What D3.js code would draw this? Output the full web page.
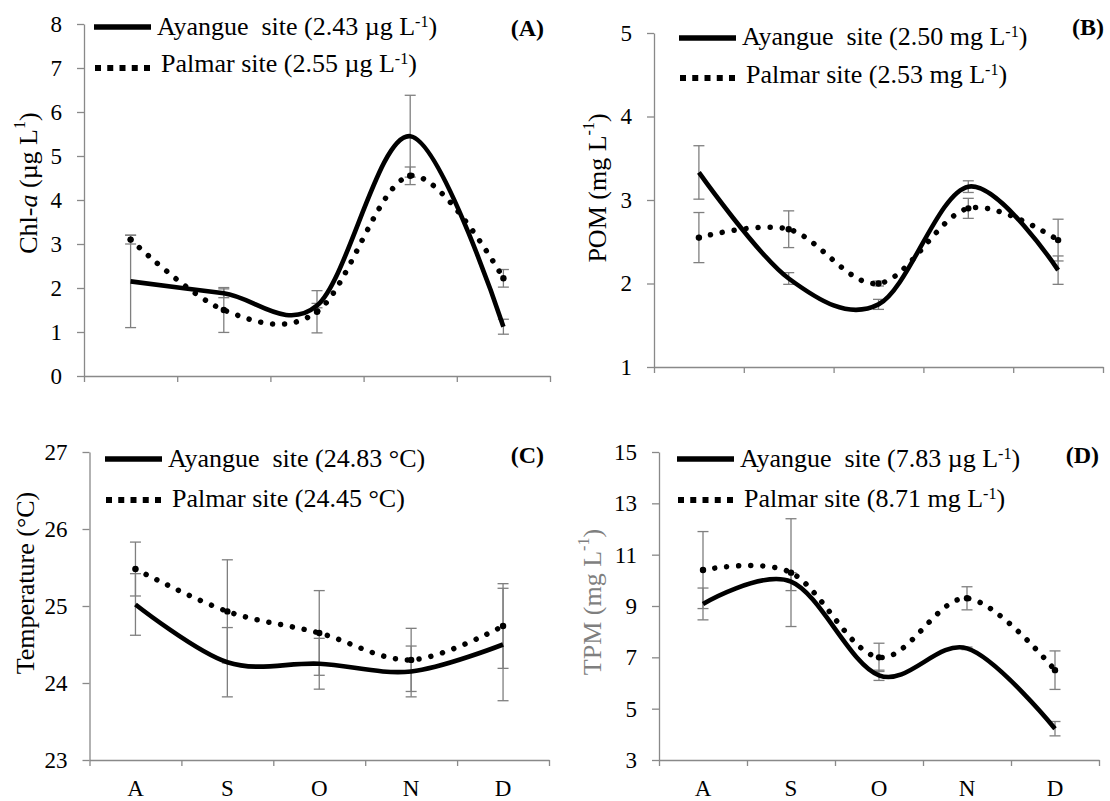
<!DOCTYPE html>
<html lang="en">
<head>
<meta charset="UTF-8">
<title>Ayangue vs Palmar, Aug-Dec</title>
<script src="https://d3js.org/d3.v7.min.js"></script>
<style>
  body { margin: 0; background: #fff; }
  svg, svg text, svg tspan { font-family: "Liberation Serif", "Times New Roman", serif; }
  svg text { fill: #000; white-space: pre; }
  .axis path, .axis line { stroke: #898989; stroke-width: 1.3px; }
  .axis text { font-size: 23px; fill: #000; }
  .errbar { stroke: #7f7f7f; stroke-width: 1.3px; fill: none; }
</style>
</head>
<body>
<div id="chart"></div>
<script>
// months sampled
const months = ["A", "S", "O", "N", "D"];

// (A) Chl-a
const chlAyangue    = [2.15, 1.88, 1.60, 5.45, 1.12];
const chlAyangueErr = [1.05, 0.10, 0.05, 0.93, 0.17];
const chlPalmar     = [3.10, 1.50, 1.46, 4.55, 2.22];
const chlPalmarErr  = [0.10, 0.51, 0.48, 0.20, 0.20];
const chlTicks      = [0, 1, 2, 3, 4, 5, 6, 7, 8];

// (B) POM
const pomAyangue    = [3.33, 2.06, 1.75, 3.16, 2.16];
const pomAyangueErr = [0.32, 0.07, 0.06, 0.07, 0.17];
const pomPalmar     = [2.55, 2.65, 2.00, 2.90, 2.52];
const pomPalmarErr  = [0.30, 0.22, 0.03, 0.12, 0.25];
const pomTicks      = [1, 2, 3, 4, 5];

// (C) Temperature
const tempAyangue    = [25.02, 24.27, 24.25, 24.15, 24.50];
const tempAyangueErr = [0.40, 0.45, 0.33, 0.33, 0.73];
const tempPalmar     = [25.48, 24.93, 24.65, 24.30, 24.74];
const tempPalmarErr  = [0.35, 0.67, 0.55, 0.41, 0.55];
const tempTicks      = [23, 24, 25, 26, 27];

// (D) TPM
const tpmAyangue    = [9.08, 9.95, 6.30, 7.35, 4.22];
const tpmAyangueErr = [0.62, 0.35, 0.20, 0.05, 0.28];
const tpmPalmar     = [10.40, 10.30, 7.00, 9.30, 6.50];
const tpmPalmarErr  = [1.50, 2.10, 0.55, 0.45, 0.75];
const tpmTicks      = [3, 5, 7, 9, 11, 13, 15];

const width = 1110, height = 801;
const serif = "Liberation Serif";

const svg = d3.select("#chart").append("svg")
    .attr("width", width)
    .attr("height", height)
    .attr("font-family", serif);

// layout for each panel (plot area edges in px)
const panels = [
  { tag: "(A)", x0: 84, x1: 550, yTop: 24, yBot: 376, ticks: chlTicks,
    ay: chlAyangue, ayErr: chlAyangueErr, pa: chlPalmar, paErr: chlPalmarErr,
    leg1: ["Ayangue  site (2.43 µg L", "-1", ")"], leg2: ["Palmar site (2.55 µg L", "-1", ")"],
    legX: 94, legY: [27, 68], legBase: [35, 72], tagX: 544, tagY: 36,
    ylab: { x: 28, y: 183, color: "#000" }, xLabels: false },
  { tag: "(B)", x0: 654, x1: 1103, yTop: 33, yBot: 367, ticks: pomTicks,
    ay: pomAyangue, ayErr: pomAyangueErr, pa: pomPalmar, paErr: pomPalmarErr,
    leg1: ["Ayangue  site (2.50 mg L", "-1", ")"], leg2: ["Palmar site (2.53 mg L", "-1", ")"],
    legX: 679, legY: [38, 78], legBase: [45, 83], tagX: 1104, tagY: 35,
    ylab: { x: 597, y: 188, color: "#000" }, xLabels: false },
  { tag: "(C)", x0: 89.5, x1: 549, yTop: 452, yBot: 760, ticks: tempTicks,
    ay: tempAyangue, ayErr: tempAyangueErr, pa: tempPalmar, paErr: tempPalmarErr,
    leg1: ["Ayangue  site (24.83 °C)"], leg2: ["Palmar site (24.45 °C)"],
    legX: 105, legY: [459, 500], legBase: [467, 507], tagX: 544, tagY: 463,
    ylab: { x: 25, y: 583, color: "#000" }, xLabels: true },
  { tag: "(D)", x0: 659, x1: 1099, yTop: 452, yBot: 760, ticks: tpmTicks,
    ay: tpmAyangue, ayErr: tpmAyangueErr, pa: tpmPalmar, paErr: tpmPalmarErr,
    leg1: ["Ayangue  site (7.83 µg L", "-1", ")"], leg2: ["Palmar site (8.71 mg L", "-1", ")"],
    legX: 677, legY: [459, 500], legBase: [467, 507], tagX: 1099, tagY: 463,
    ylab: { x: 592, y: 602, color: "#7f7f7f" }, xLabels: true }
];

const yTitles = [
  ["Chl-", { t: "a", it: true }, " (µg L", { t: "1", sup: true }, ")"],
  ["POM (mg L", { t: "-1", sup: true }, ")"],
  ["Temperature (°C)"],
  ["TPM (mg L", { t: "-1", sup: true }, ")"]
];

function addParts(text, parts, size) {
  parts.forEach(p => {
    if (typeof p === "string") {
      text.append("tspan").text(p);
    } else {
      const ts = text.append("tspan").text(p.t);
      if (p.it) ts.attr("font-style", "italic");
      if (p.sup) ts.attr("baseline-shift", "super").attr("font-size", size * 0.62);
    }
  });
}

panels.forEach((p, i) => {
  const g = svg.append("g");

  const y = d3.scaleLinear()
      .domain([p.ticks[0], p.ticks[p.ticks.length - 1]])
      .range([p.yBot, p.yTop]);
  const xb = d3.scaleBand().domain(months).range([p.x0, p.x1]);
  const xc = m => xb(m) + xb.bandwidth() / 2;
  const xl = d3.scaleLinear().domain([0, months.length]).range([p.x0, p.x1]);

  // y axis
  g.append("g")
      .attr("class", "axis")
      .attr("transform", `translate(${p.x0},0)`)
      .call(d3.axisLeft(y).tickValues(p.ticks).tickFormat(d3.format("d"))
        .tickSize(7).tickSizeOuter(0).tickPadding(15))
      .attr("font-family", serif);

  // x axis with ticks between months
  g.append("g")
      .attr("class", "axis")
      .attr("transform", `translate(0,${p.yBot})`)
      .call(d3.axisBottom(xl).tickValues(d3.range(months.length + 1)).tickFormat("").tickSize(6).tickSizeOuter(0));

  if (p.xLabels) {
    const xa = g.append("g")
        .attr("class", "axis")
        .attr("transform", `translate(0,${p.yBot})`)
        .call(d3.axisBottom(xb).tickSize(0).tickPadding(20))
        .attr("font-family", serif);
    xa.select(".domain").remove();
  }

  const line = d3.line()
      .x((d, j) => xc(months[j]))
      .y(d => y(d))
      .curve(d3.curveCardinal.tension(0));

  // error bars
  const bars = [];
  months.forEach((m, j) => {
    bars.push({ m, v: p.ay[j], e: p.ayErr[j] });
    bars.push({ m, v: p.pa[j], e: p.paErr[j] });
  });
  const eb = g.append("g").selectAll("g").data(bars).enter().append("g").attr("class", "errbar");
  eb.append("line")
      .attr("x1", d => xc(d.m)).attr("x2", d => xc(d.m))
      .attr("y1", d => y(d.v - d.e)).attr("y2", d => y(d.v + d.e));
  eb.append("line")
      .attr("x1", d => xc(d.m) - 5.5).attr("x2", d => xc(d.m) + 5.5)
      .attr("y1", d => y(d.v + d.e)).attr("y2", d => y(d.v + d.e));
  eb.append("line")
      .attr("x1", d => xc(d.m) - 5.5).attr("x2", d => xc(d.m) + 5.5)
      .attr("y1", d => y(d.v - d.e)).attr("y2", d => y(d.v - d.e));

  // Palmar - dotted
  g.append("path")
      .datum(p.pa)
      .attr("d", line)
      .attr("fill", "none")
      .attr("stroke", "#000")
      .attr("stroke-width", 5.5)
      .attr("stroke-linecap", "round")
      .attr("stroke-dasharray", "0.01 12");
  g.append("g").selectAll("circle")
      .data(p.pa)
      .enter().append("circle")
      .attr("cx", (d, j) => xc(months[j]))
      .attr("cy", d => y(d))
      .attr("r", 3.2)
      .attr("fill", "#000");

  // Ayangue - solid
  g.append("path")
      .datum(p.ay)
      .attr("d", line)
      .attr("fill", "none")
      .attr("stroke", "#000")
      .attr("stroke-width", 4.6);

  // legend
  g.append("line")
      .attr("x1", p.legX).attr("x2", p.legX + 57)
      .attr("y1", p.legY[0]).attr("y2", p.legY[0])
      .attr("stroke", "#000").attr("stroke-width", 5.5);
  g.append("line")
      .attr("x1", p.legX + 1).attr("x2", p.legX + 56)
      .attr("y1", p.legY[1]).attr("y2", p.legY[1])
      .attr("stroke", "#000").attr("stroke-width", 6)
      .attr("stroke-dasharray", "6 6.25");

  const t1 = g.append("text")
      .attr("x", p.legX + 63).attr("y", p.legBase[0])
      .attr("font-family", serif)
      .attr("font-size", 26);
  addParts(t1, p.leg1.map((s, k) => k === 1 ? { t: s, sup: true } : s), 26);
  const t2 = g.append("text")
      .attr("x", p.legX + 67).attr("y", p.legBase[1])
      .attr("font-family", serif)
      .attr("font-size", 26);
  addParts(t2, p.leg2.map((s, k) => k === 1 ? { t: s, sup: true } : s), 26);

  g.append("text")
      .attr("x", p.tagX).attr("y", p.tagY)
      .attr("text-anchor", "end")
      .attr("font-family", serif)
      .attr("font-size", 24)
      .attr("font-weight", "bold")
      .text(p.tag);

  // y title
  const yt = g.append("text")
      .attr("transform", `translate(${p.ylab.x},${p.ylab.y}) rotate(-90)`)
      .attr("text-anchor", "middle")
      .attr("dominant-baseline", "central")
      .attr("font-family", serif)
      .attr("font-size", 26)
      .style("fill", p.ylab.color);
  addParts(yt, yTitles[i], 26);
});
</script>
</body>
</html>
